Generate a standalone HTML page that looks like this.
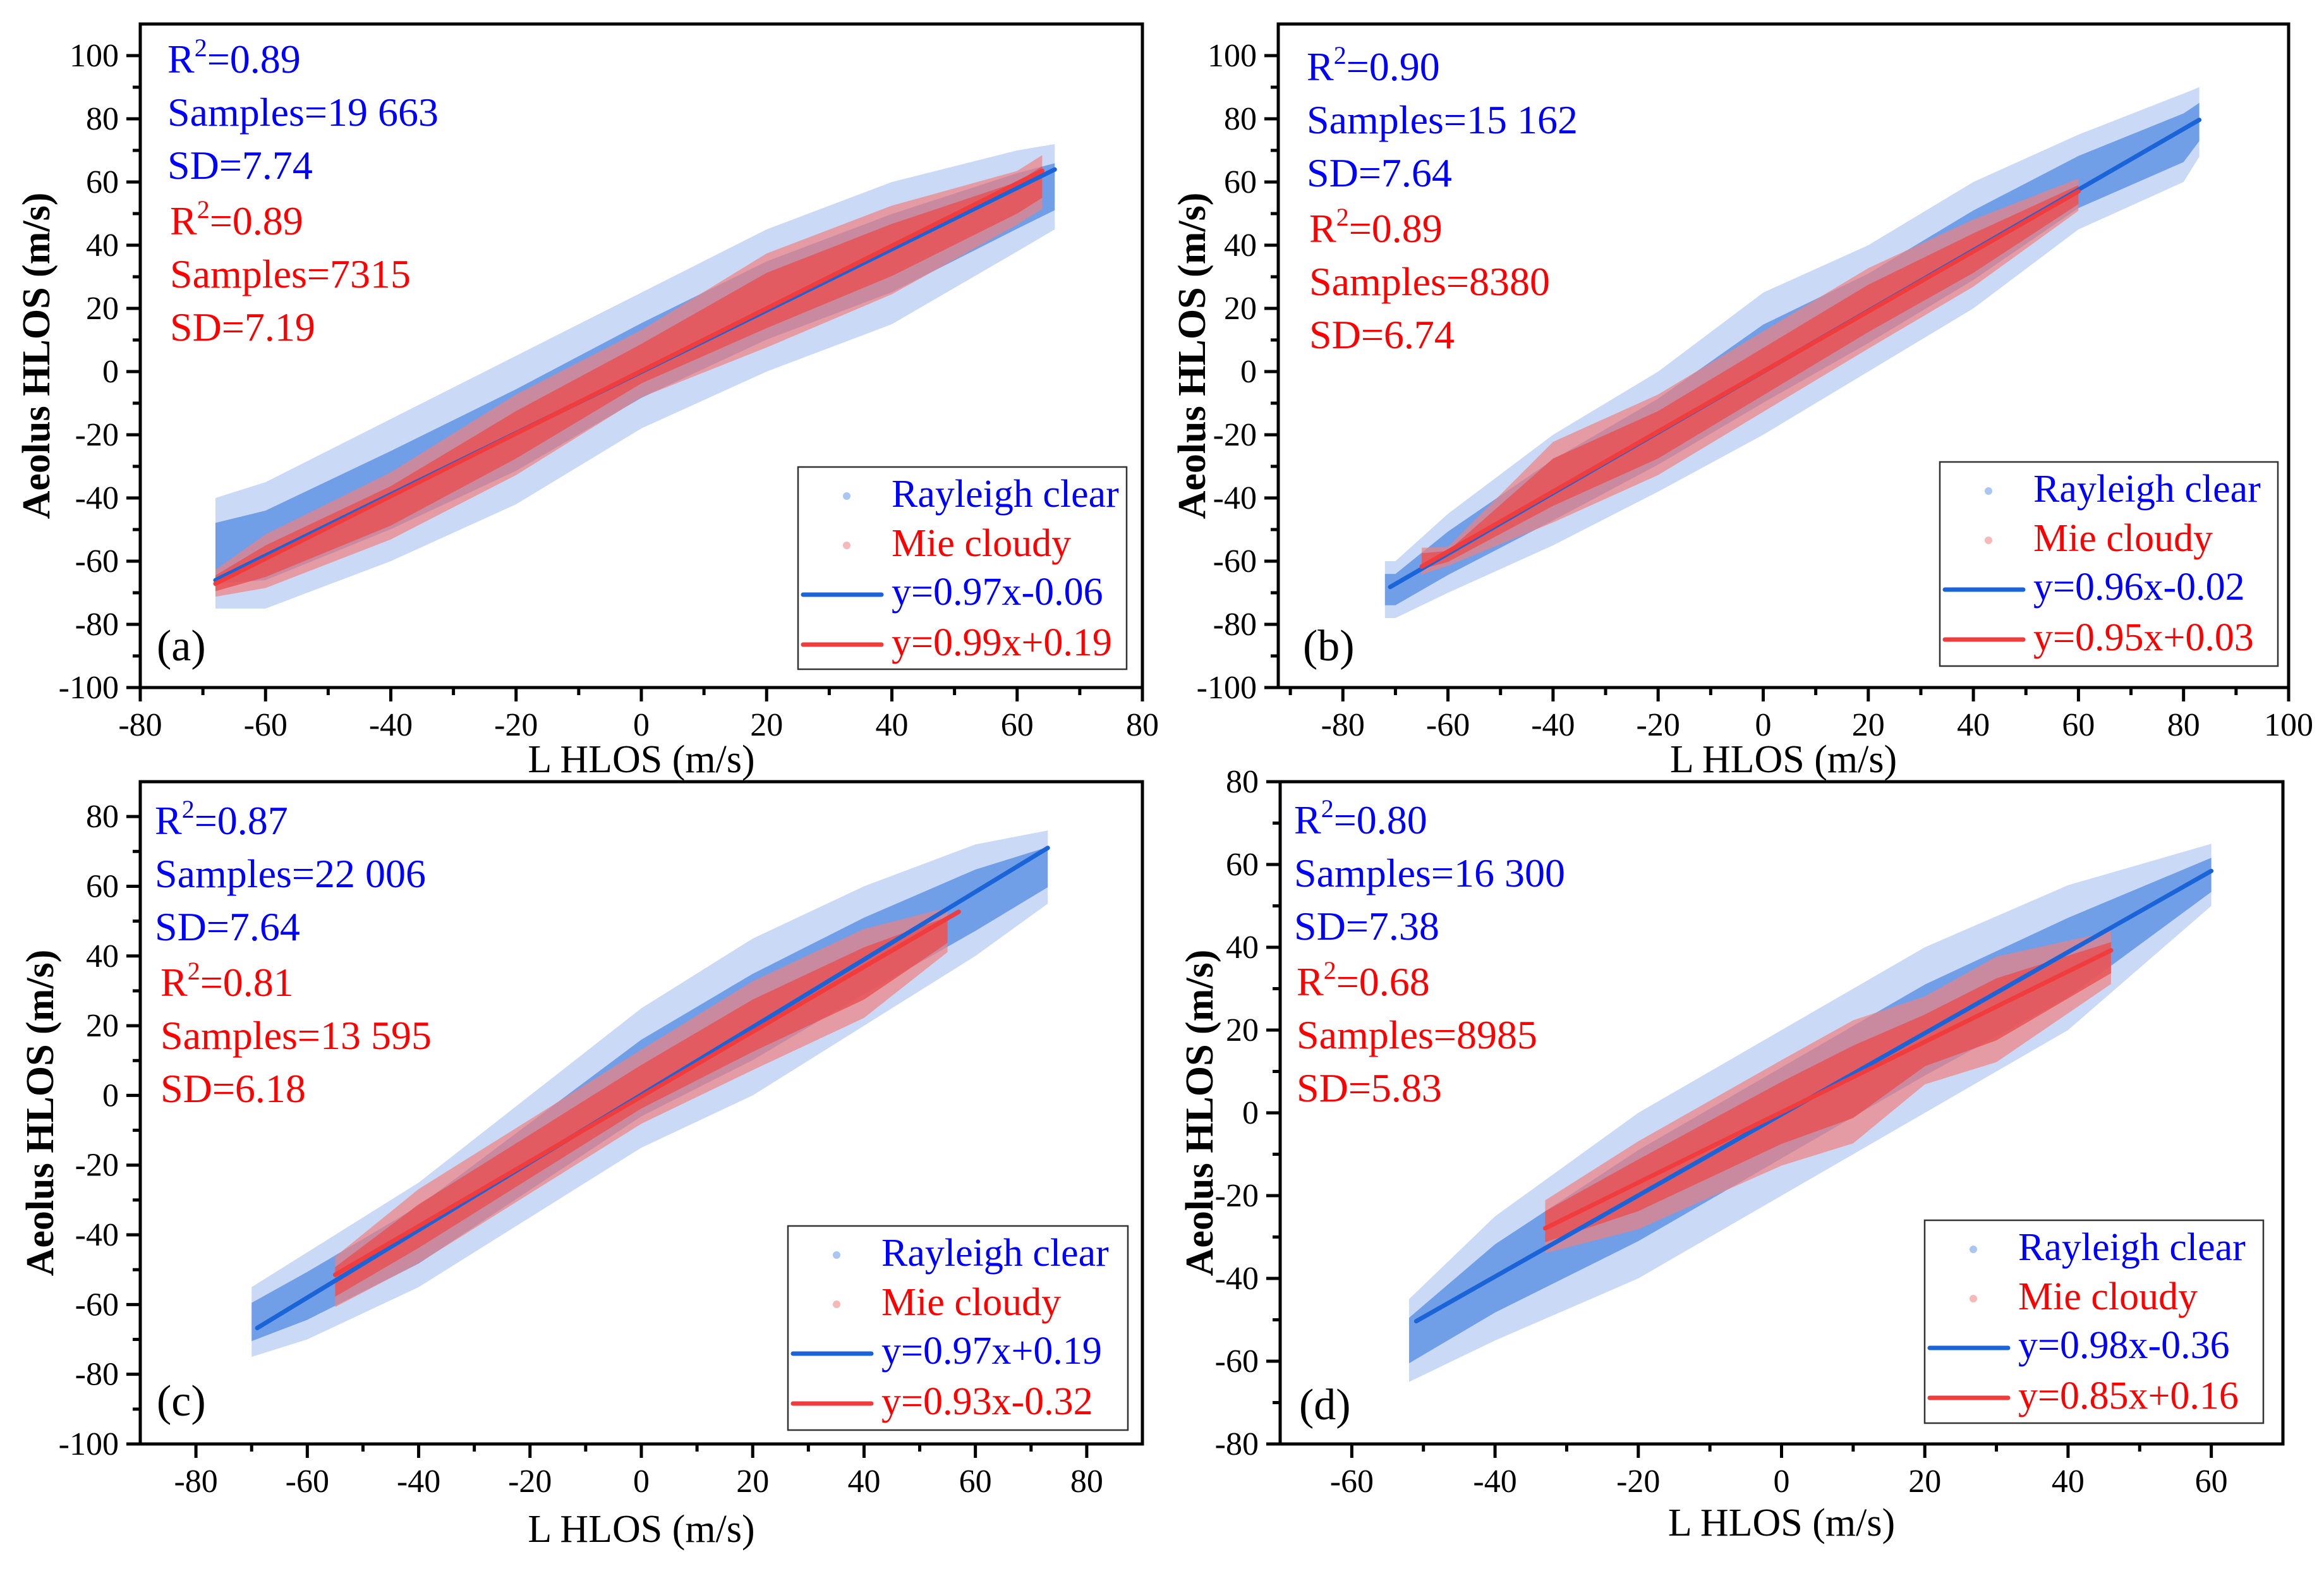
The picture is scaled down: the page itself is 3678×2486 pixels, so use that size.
<!DOCTYPE html>
<html><head><meta charset="utf-8"><style>
html,body{margin:0;padding:0;background:#fff}
svg{display:block;font-family:"Liberation Serif",serif}
svg text{font-family:"Liberation Serif",serif}
</style></head><body>
<svg id="fig" xmlns="http://www.w3.org/2000/svg" width="3678" height="2486" viewBox="0 0 3678 2486" font-family="Liberation Serif, serif">
<rect width="3678" height="2486" fill="#fff"/>
</svg>
<script>
// ---- data ----
const panelIds = ["a","b","c","d"];
const aX = [-68,-60,-40,-20,0,20,40,60,66];
const aBlueLo = [-75,-75,-60,-42,-18,0,15,38,45];
const aBlueHi = [-40,-35,-15,5,25,45,60,70,72];
const aRedX = [-68,-60,-40,-20,0,20,40,60,64];
const aRedLo = [-72,-70,-55,-35,-10,5,22,45,50];
const aRedHi = [-62,-50,-30,-5,15,40,55,65,70];
const bX = [-72,-70,-60,-40,-20,0,20,40,60,80,83];
const bBlueLo = [-78,-78,-70,-55,-38,-20,0,20,45,60,68];
const bBlueHi = [-60,-60,-45,-20,0,25,40,60,75,88,90];
const bRedX = [-65,-60,-40,-20,0,20,40,60];
const bRedLo = [-65,-62,-50,-35,-15,5,25,50];
const bRedHi = [-55,-55,-20,-5,15,35,50,62];
const cX = [-70,-60,-40,-20,0,20,40,60,73];
const cBlueLo = [-75,-70,-55,-35,-15,0,20,40,55];
const cBlueHi = [-55,-45,-25,0,25,45,60,72,76];
const cRedX = [-55,-40,-20,0,20,40,55];
const cRedLo = [-62,-50,-30,-10,5,20,40];
const cRedHi = [-45,-25,-5,15,35,50,55];
const dX = [-52,-40,-20,0,20,40,60];
const dBlueLo = [-65,-55,-40,-20,0,20,50];
const dBlueHi = [-45,-25,0,20,40,55,65];
const dRedX = [-33,-20,0,10,20,30,46];
const dRedLo = [-35,-30,-15,-10,5,10,30];
const dRedHi = [-20,-5,15,25,30,40,45];
const blueSlope = [0.97,0.96,0.97,0.98];
const blueIntercept = [-0.06,-0.02,0.19,-0.36];
const blueXMin = [-68,-71,-69,-51];
const blueXMax = [66,83,73,60];
const redSlope = [0.99,0.95,0.93,0.85];
const redIntercept = [0.19,0.03,-0.32,0.16];
const redXMin = [-68,-65,-55,-33];
const redXMax = [64,60,57,46];
const blueR2 = ["0.89","0.90","0.87","0.80"];
const blueSamples = ["19 663","15 162","22 006","16 300"];
const blueSD = ["7.74","7.64","7.64","7.38"];
const redR2 = ["0.89","0.89","0.81","0.68"];
const redSamples = ["7315","8380","13 595","8985"];
const redSD = ["7.19","6.74","6.18","5.83"];
const blueEq = ["y=0.97x-0.06","y=0.96x-0.02","y=0.97x+0.19","y=0.98x-0.36"];
const redEq = ["y=0.99x+0.19","y=0.95x+0.03","y=0.93x-0.32","y=0.85x+0.16"];
const xTicks = [[-80,-60,-40,-20,0,20,40,60,80],[-80,-60,-40,-20,0,20,40,60,80,100],[-80,-60,-40,-20,0,20,40,60,80],[-60,-40,-20,0,20,40,60]];
const yTicks = [[-100,-80,-60,-40,-20,0,20,40,60,80,100],[-100,-80,-60,-40,-20,0,20,40,60,80,100],[-100,-80,-60,-40,-20,0,20,40,60,80],[-80,-60,-40,-20,0,20,40,60,80]];
const xDomain = [[-80,80],[-92.3,100],[-90,90],[-70,70]];
const yDomain = [[-100,110],[-100,110],[-100,90],[-80,80]];

// ---- layout ----
const boxes = [{L:222,R:1808,T:38,B:1088},{L:2023,R:3622,T:38,B:1088},{L:222,R:1808,T:1237,B:2285},{L:2026,R:3613,T:1237,B:2285}];
const annX = [[265,269],[2068,2072],[245,254],[2048,2052]];
const annY0 = [115,127,1320,1319];
const legBox = [{x:1263,y:739,w:520,h:320},{x:3070,y:731,w:535,h:323},{x:1247,y:1940,w:538,h:323},{x:3046,y:1931,w:536,h:321}];
const yTitleX = [64,1893,70,1905];
const xTitleY = [1222,1222,2440,2430];
const labelPos = [[248,1045],[2062,1045],[248,2240],[2056,2246]];
const envs = [[aX,aBlueLo,aBlueHi,aRedX,aRedLo,aRedHi],[bX,bBlueLo,bBlueHi,bRedX,bRedLo,bRedHi],[cX,cBlueLo,cBlueHi,cRedX,cRedLo,cRedHi],[dX,dBlueLo,dBlueHi,dRedX,dRedLo,dRedHi]];

const NS = "http://www.w3.org/2000/svg";
const FONT = "Liberation Serif, serif";
const svg = document.getElementById("fig");
function mk(tag, attrs, parent, txt){
  const e = document.createElementNS(NS, tag);
  for (const k in attrs) e.setAttribute(k, attrs[k]);
  if (tag === "text") e.setAttribute("font-family", FONT);
  if (txt !== undefined) e.textContent = txt;
  (parent||svg).appendChild(e);
  return e;
}

panelIds.forEach((pid, i) => {
  const b = boxes[i];
  const g = mk("g", {});
  
  
  const sx = v => b.L + (v - xDomain[i][0]) / (xDomain[i][1] - xDomain[i][0]) * (b.R - b.L);
  const sy = v => b.B - (v - yDomain[i][0]) / (yDomain[i][1] - yDomain[i][0]) * (b.B - b.T);
  const clipId = "clip" + pid;
  const cp = mk("clipPath", {id: clipId}, g);
  mk("rect", {x:b.L, y:b.T, width:b.R-b.L, height:b.B-b.T}, cp);
  const plot = mk("g", {"clip-path": "url(#" + clipId + ")"}, g);

  const [ex, blo, bhi, rx, rlo, rhi] = envs[i];
  function poly(xs, lo, hi, shrink, fill, op, name){
    const pts = [];
    xs.forEach((x, k) => { const m=(lo[k]+hi[k])/2, h=(hi[k]-lo[k])/2*shrink; pts.push(sx(x)+","+sy(m+h)); });
    for (let k = xs.length-1; k >= 0; k--){ const m=(lo[k]+hi[k])/2, h=(hi[k]-lo[k])/2*shrink; pts.push(sx(xs[k])+","+sy(m-h)); }
    const p = mk("polygon", {points: pts.join(" "), fill: fill, "fill-opacity": op, "stroke-linejoin":"round"}, plot);
    
    
  }
  poly(ex, blo, bhi, 1.0, "#a6c2f0", 0.6, "rayleigh-cloud-outer");
  poly(ex, blo, bhi, 0.55, "#4a86e2", 0.7, "rayleigh-cloud-core");
  poly(rx, rlo, rhi, 0.85, "#f08080", 0.7, "mie-cloud-outer");
  poly(rx, rlo, rhi, 0.5, "#e85050", 0.8, "mie-cloud-core");

  const bl = mk("line", {x1:sx(blueXMin[i]), y1:sy(blueSlope[i]*blueXMin[i]+blueIntercept[i]), x2:sx(blueXMax[i]), y2:sy(blueSlope[i]*blueXMax[i]+blueIntercept[i]), stroke:"#1a64d8", "stroke-width":7, "stroke-linecap":"round"}, plot);
  
  
  const rl = mk("line", {x1:sx(redXMin[i]), y1:sy(redSlope[i]*redXMin[i]+redIntercept[i]), x2:sx(redXMax[i]), y2:sy(redSlope[i]*redXMax[i]+redIntercept[i]), stroke:"#f03c3c", "stroke-width":7, "stroke-linecap":"round"}, plot);
  
  

  const fr = mk("rect", {x:b.L, y:b.T, width:b.R-b.L, height:b.B-b.T, fill:"none", stroke:"#000", "stroke-width":5}, g);
  
  

  const xt = xTicks[i];
  xt.forEach(v => {
    mk("line", {x1:sx(v), y1:b.B, x2:sx(v), y2:b.B+22, stroke:"#000", "stroke-width":5}, g);
    const t = mk("text", {x:sx(v), y:b.B+76, "font-size":52, "text-anchor":"middle", fill:"#000"}, g, String(v));
    
    
    const mv = v + 10;
    if (sx(mv) < b.R - 2) mk("line", {x1:sx(mv), y1:b.B, x2:sx(mv), y2:b.B+12, stroke:"#000", "stroke-width":5}, g);
  });
  if (sx(xt[0]-10) > b.L + 2) mk("line", {x1:sx(xt[0]-10), y1:b.B, x2:sx(xt[0]-10), y2:b.B+12, stroke:"#000", "stroke-width":5}, g);
  const yt = yTicks[i];
  yt.forEach(v => {
    mk("line", {x1:b.L-22, y1:sy(v), x2:b.L, y2:sy(v), stroke:"#000", "stroke-width":5}, g);
    const t = mk("text", {x:b.L-34, y:sy(v)+17, "font-size":52, "text-anchor":"end", fill:"#000"}, g, String(v));
    
    
    const mv = v + 10;
    if (sy(mv) > b.T + 2) mk("line", {x1:b.L-12, y1:sy(mv), x2:b.L, y2:sy(mv), stroke:"#000", "stroke-width":5}, g);
  });

  const xtitle = mk("text", {x:(b.L+b.R)/2, y:xTitleY[i], "font-size":62, "text-anchor":"middle", fill:"#000"}, g, "L HLOS (m/s)");
  
  
  const cy = (b.T+b.B)/2;
  const ytitle = mk("text", {x:yTitleX[i], y:cy, "font-size":62, "font-weight":"bold", "text-anchor":"middle", fill:"#000", "dominant-baseline":"middle", transform:"rotate(-90 "+yTitleX[i]+" "+cy+")"}, g, "Aeolus HLOS (m/s)");
  
  

  const lines = [["#0000ff","R2",blueR2[i]],["#0000ff","Samples=",blueSamples[i]],["#0000ff","SD=",blueSD[i]],["#ff0000","R2",redR2[i]],["#ff0000","Samples=",redSamples[i]],["#ff0000","SD=",redSD[i]]];
  lines.forEach((ln, k) => {
    const x = k < 3 ? annX[i][0] : annX[i][1];
    const y = annY0[i] + k*84 + (k>=3 ? 4 : 0);
    const t = mk("text", {x:x, y:y, "font-size":64, fill:ln[0]}, g);
    
    
    if (ln[1] === "R2") {
      mk("tspan", {}, t, "R");
      mk("tspan", {dy:-26, "font-size":40}, t, "2");
      mk("tspan", {dy:26}, t, "=" + ln[2]);
    } else {
      t.textContent = ln[1] + ln[2];
    }
  });

  const pl = mk("text", {x:labelPos[i][0], y:labelPos[i][1], "font-size":70, fill:"#000"}, g, "(" + pid + ")");
  
  

  const lb = legBox[i];
  const lg = mk("g", {}, g);
  
  
  mk("rect", {x:lb.x, y:lb.y, width:lb.w, height:lb.h, fill:"#fff", stroke:"#333", "stroke-width":2.5}, lg);
  mk("circle", {cx:lb.x+77, cy:lb.y+46, r:6, fill:"#aac6f2"}, lg);
  mk("circle", {cx:lb.x+77, cy:lb.y+124, r:6, fill:"#f6b8b8"}, lg);
  mk("line", {x1:lb.x+8, y1:lb.y+202, x2:lb.x+132, y2:lb.y+202, stroke:"#1a64d8", "stroke-width":7, "stroke-linecap":"round"}, lg);
  mk("line", {x1:lb.x+8, y1:lb.y+281, x2:lb.x+132, y2:lb.y+281, stroke:"#f03c3c", "stroke-width":7, "stroke-linecap":"round"}, lg);
  const entries = [["Rayleigh clear","#0000ff",63],["Mie cloudy","#ff0000",141],[blueEq[i],"#0000ff",218],[redEq[i],"#ff0000",298]];
  entries.forEach(en => {
    const t = mk("text", {x:lb.x+148, y:lb.y+en[2], "font-size":62, fill:en[1]}, lg, en[0]);
    
    
  });
});
</script>
</body></html>
